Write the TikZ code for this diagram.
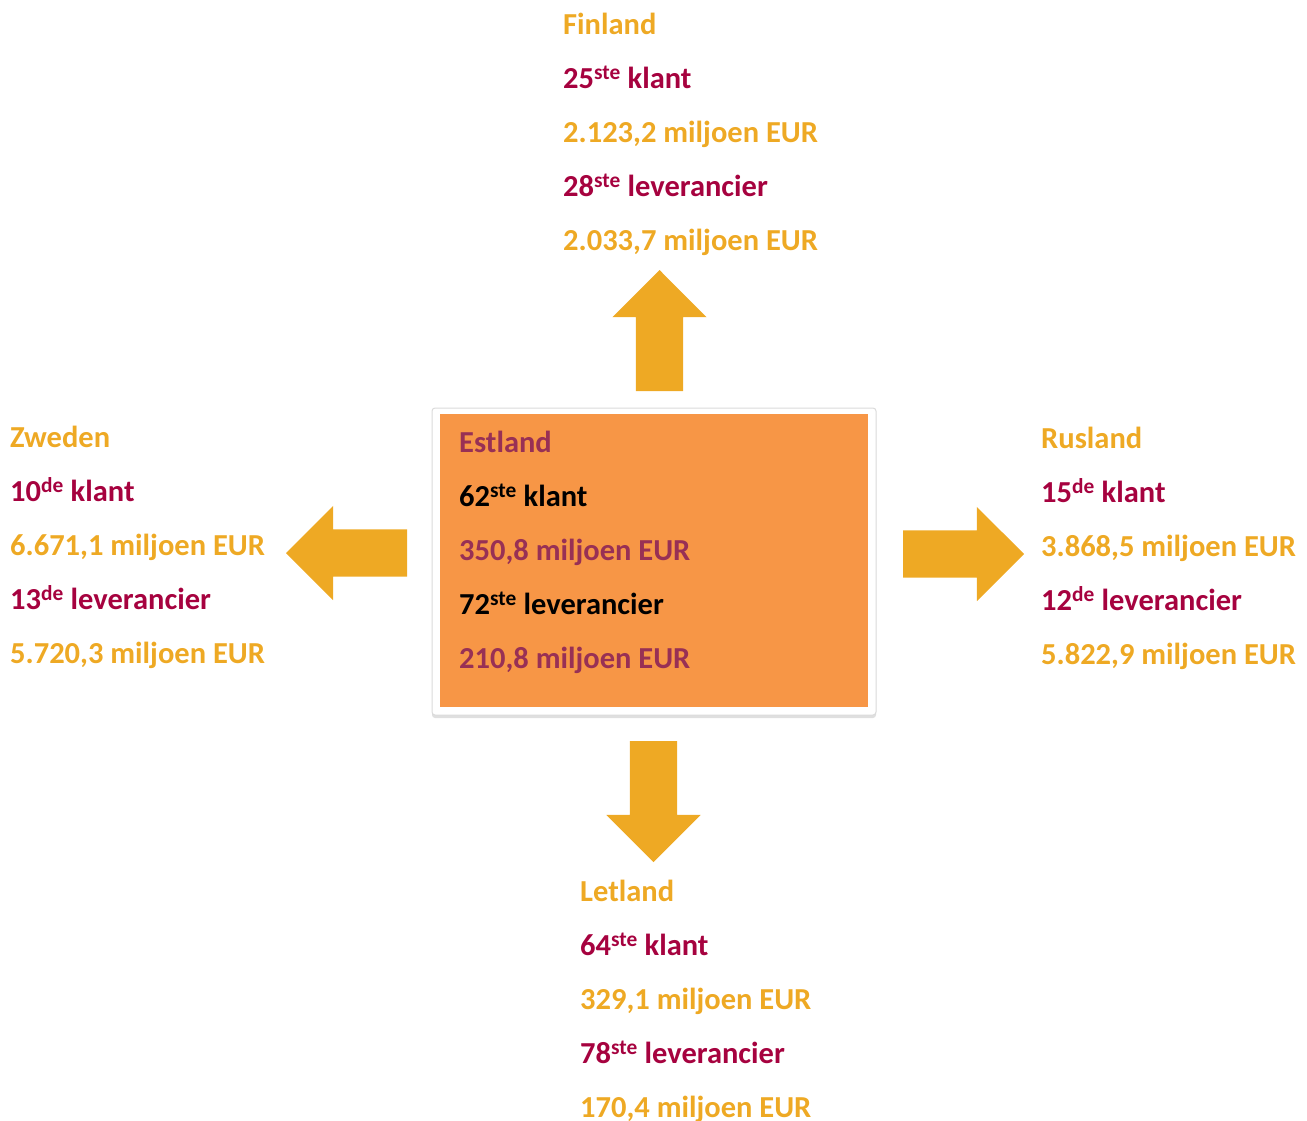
\documentclass[tikz,border=0pt]{standalone}
\usepackage{fontspec}
\setmainfont{Carlito}
\usepackage{tikz}
\usetikzlibrary{shapes,shadows,arrows}
\definecolor{gold}{HTML}{EEA924}
\definecolor{crimson}{HTML}{A6023F}
\definecolor{plum}{HTML}{983055}
\definecolor{panelOrange}{HTML}{F79646}
\tikzstyle{country} = [anchor=north west,inner sep=0pt,align=left,font=\fontsize{30.5}{54}\selectfont\bfseries]
\tikzstyle{bigArrow} = [single arrow,fill=gold,draw=none,inner sep=23.5pt,outer sep=0pt,single arrow head extend=23.5pt,minimum height=121pt,anchor=tip]

\begin{document}
\begin{tikzpicture}[x=1pt,y=-1pt]
		\useasboundingbox(0,0) rectangle (1307,1120);
		\node[fill=white,draw=black!14,line width=1pt,rounded corners=3pt,minimum width=444pt,minimum height=307pt,drop shadow={shadow xshift=0pt,shadow yshift=-3pt,opacity=.25}](frame) at (654,561.5){};
		\node[fill=panelOrange,minimum width=428pt,minimum height=293pt](panel) at (654,560.5){};
		\node[country](estland) at (459,431){\textcolor{plum}{Estland}\\62\textsuperscript{ste} klant\\\textcolor{plum}{350,8 miljoen EUR}\\72\textsuperscript{ste} leverancier\\\textcolor{plum}{210,8 miljoen EUR}};
		\node[country](finland) at (563,13){\textcolor{gold}{Finland}\\\textcolor{crimson}{25\textsuperscript{ste} klant}\\\textcolor{gold}{2.123,2 miljoen EUR}\\\textcolor{crimson}{28\textsuperscript{ste} leverancier}\\\textcolor{gold}{2.033,7 miljoen EUR}};
		\node[country](zweden) at (10,426){\textcolor{gold}{Zweden}\\\textcolor{crimson}{10\textsuperscript{de} klant}\\\textcolor{gold}{6.671,1 miljoen EUR}\\\textcolor{crimson}{13\textsuperscript{de} leverancier}\\\textcolor{gold}{5.720,3 miljoen EUR}};
		\node[country](rusland) at (1041,427){\textcolor{gold}{Rusland}\\\textcolor{crimson}{15\textsuperscript{de} klant}\\\textcolor{gold}{3.868,5 miljoen EUR}\\\textcolor{crimson}{12\textsuperscript{de} leverancier}\\\textcolor{gold}{5.822,9 miljoen EUR}};
		\node[country](letland) at (580,880){\textcolor{gold}{Letland}\\\textcolor{crimson}{64\textsuperscript{ste} klant}\\\textcolor{gold}{329,1 miljoen EUR}\\\textcolor{crimson}{78\textsuperscript{ste} leverancier}\\\textcolor{gold}{170,4 miljoen EUR}};
		%arrows
		\node[bigArrow,shape border rotate=90](toFinland) at (659.5,270){};
		\node[bigArrow,shape border rotate=180](toZweden) at (286,553){};
		\node[bigArrow](toRusland) at (1024,554){};
		\node[bigArrow,shape border rotate=270](toLetland) at (653.5,862){};
	\end{tikzpicture}
\end{document}
